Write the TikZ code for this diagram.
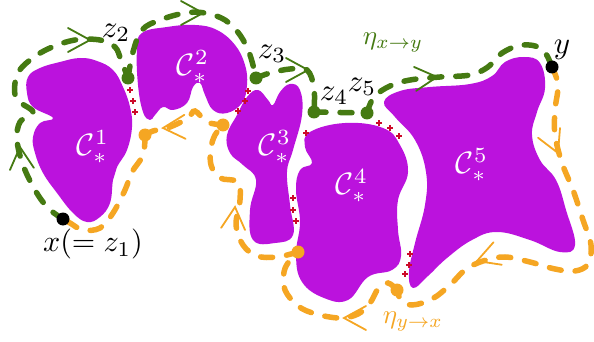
\documentclass[tikz,border=0pt]{standalone}
\usepackage{xcolor}
\usepackage{tikz}
\definecolor{blPurple}{HTML}{BB12DD}
\definecolor{blGreen}{HTML}{457A12}
\definecolor{blOrange}{HTML}{F5A623}
\definecolor{blRed}{HTML}{CC0A2A}

\begin{document}
\begin{tikzpicture}[x=1pt,y=-1pt,
  blob/.style={fill=blPurple},
  cl/.style={text=white,scale=3.1,inner sep=0pt},
  lab/.style={scale=3.1,inner sep=0pt},
  gp/.style={draw=blGreen,line width=5.5pt,line cap=round,dash pattern=on 12pt off 14pt},
  op/.style={draw=blOrange,line width=5.5pt,line cap=round,dash pattern=on 12pt off 14pt},
  gdot/.style={circle,fill=blGreen,minimum size=13pt,inner sep=0pt},
  odot/.style={circle,fill=blOrange,minimum size=13pt,inner sep=0pt},
  bdot/.style={circle,fill=black,minimum size=13pt,inner sep=0pt},
  mk/.style={draw=blRed,line width=1.6pt},
  chev/.pic={\draw[line width=1.8pt,line cap=round] (-22,-12) -- (0,0) -- (-22,12);}
]
\useasboundingbox (0,0) rectangle (594,342);
% clusters
\fill[blob] plot[smooth cycle,tension=0.7] coordinates {(28,77) (40,68) (60,62) (80,58) (97,61) (113,70) (123,87) (130,107) (132,127) (127,150) (117,167) (113,180) (110,203) (100,217) (87,222) (73,213) (57,193) (43,173) (35,153) (33,137) (40,123) (53,118) (33,107) (27,93)};
\fill[blob] plot[smooth cycle,tension=0.7] coordinates {(137,50) (142,33) (167,27) (195,25) (217,30) (235,45) (245,65) (247,85) (242,103) (227,113) (213,110) (205,95) (200,83) (193,87) (187,103) (173,110) (163,107) (155,115) (150,120) (143,112) (138,85)};
\fill[blob] plot[smooth cycle,tension=0.7] coordinates {(247,97) (258,90) (268,100) (273,105) (280,92) (290,84) (300,90) (302,115) (293,150) (287,172) (290,205) (293,235) (275,243) (253,240) (250,210) (256,180) (243,165) (230,153) (227,135) (237,115)};
\fill[blob] plot[smooth cycle,tension=0.7] coordinates {(310,132) (345,123) (383,128) (400,145) (408,172) (398,200) (398,230) (401,256) (392,270) (368,277) (348,300) (324,298) (302,282) (296,255) (300,222) (296,190) (300,170) (312,163) (305,147)};
\fill[blob] plot[smooth cycle,tension=0.7] coordinates {(384,102) (400,91) (430,87) (470,84) (492,76) (505,62) (524,57) (540,63) (545,88) (537,112) (532,135) (540,160) (556,180) (566,210) (575,245) (560,252) (530,240) (497,232) (472,240) (447,258) (428,276) (413,288) (409,272) (415,243) (425,205) (426,172) (415,140) (395,117)};
% gaps
\foreach \p in {(130,90),(133,101),(135,112),(248,91),(245,101),(238,111),(306,133),
  (293,198),(293,210),(296,221),(379,123),(390,128),(399,136),(410,254),(409,265),(405,274)}
  \draw[mk] \p ++(-2.6,0) -- ++(5.2,0) \p ++(0,-2.6) -- ++(0,5.2);
% points
\coordinate (x) at (63,219);
\coordinate (y) at (552,67);
\coordinate (z2) at (128,78);
\coordinate (z3) at (256,78);
\coordinate (z4) at (314,112);
\coordinate (z5) at (367,113);
\coordinate (d1) at (397,290);
\coordinate (d2) at (298,252);
\coordinate (d3) at (223,125);
\coordinate (d4) at (145,135);
% eta x -> y
\draw[gp] plot[smooth,tension=0.6] coordinates {(x) (48,208) (35,190) (23,165) (17,140) (20,122) (33,112) (16,98) (17,75) (30,60) (50,48) (75,40) (100,40) (115,47) (121,60) (z2)};
\draw[gp] plot[smooth,tension=0.6] coordinates {(z2) (133,52) (142,30) (160,20) (185,13) (205,13) (225,20) (240,35) (250,55) (z3)};
\draw[gp] plot[smooth,tension=0.6] coordinates {(z3) (270,73) (290,69) (307,70) (314,88) (z4)};
\draw[gp] (z4) -- (z5);
\draw[gp] plot[smooth,tension=0.6] coordinates {(z5) (374,97) (390,86) (410,80) (440,77) (470,75) (488,67) (502,53) (522,45) (542,49) (y)};
% eta y -> x
\draw[op] plot[smooth,tension=0.6] coordinates {(y) (558,85) (555,110) (555,135) (562,163) (573,190) (583,220) (591,245) (588,264) (575,271) (555,269) (530,262) (505,257) (483,261) (465,270) (450,285) (432,299) (412,305) (401,300) (d1)};
\draw[op] plot[smooth,tension=0.6] coordinates {(d1) (388,283) (378,289) (370,303) (358,314) (340,318) (316,314) (298,306) (285,290) (284,272) (290,260) (d2)};
\draw[op] plot[smooth,tension=0.6] coordinates {(d2) (277,257) (257,256) (243,245) (236,225) (240,200) (238,182) (220,178) (211,165) (211,148) (215,135) (d3)};
\draw[op] plot[smooth,tension=0.6] coordinates {(d3) (207,122) (195,111) (188,118) (170,127) (153,131) (d4)};
\draw[op] plot[smooth,tension=0.6] coordinates {(d4) (143,155) (132,172) (125,190) (113,213) (100,228) (83,230) (70,223) (x)};
% arrows
\pic[blGreen,rotate=95] at (20,147) {chev};
\pic[blGreen] at (90,40) {chev};
\pic[blGreen] at (203,13) {chev};
\pic[blGreen] at (308,70) {chev};
\pic[blGreen,rotate=5] at (437,77) {chev};
\pic[blOrange,rotate=-66] at (558,153) {chev};
\pic[blOrange,rotate=200] at (477,261) {chev};
\pic[blOrange,rotate=180] at (344,318) {chev};
\pic[blOrange,rotate=85] at (235,207) {chev};
\pic[blOrange,rotate=183] at (163,128) {chev};
% dots
\node[bdot] (xd) at (x) {};
\node[bdot] (yd) at (y) {};
\node[gdot] (z2d) at (z2) {};
\node[gdot] (z3d) at (z3) {};
\node[gdot] (z4d) at (z4) {};
\node[gdot] (z5d) at (z5) {};
\node[odot] (d1d) at (d1) {};
\node[odot] (d2d) at (d2) {};
\node[odot] (d3d) at (d3) {};
\node[odot] (d4d) at (d4) {};
% labels
\node[cl] (c1) at (93,147) {$\mathcal{C}^1_*$};
\node[cl] (c2) at (193,67) {$\mathcal{C}^2_*$};
\node[cl] (c3) at (275,147) {$\mathcal{C}^3_*$};
\node[cl] (c4) at (352,186) {$\mathcal{C}^4_*$};
\node[cl] (c5) at (472,165) {$\mathcal{C}^5_*$};
\node[lab] (lz2) at (116,33) {$z_2$};
\node[lab] (lz3) at (272,54) {$z_3$};
\node[lab] (lz4) at (334,96) {$z_4$};
\node[lab] (lz5) at (362,87) {$z_5$};
\node[lab] (ly) at (562,50) {$y$};
\node[lab,scale=0.97] (lx) at (93,244) {$x(=z_1)$};
\node[lab,scale=0.87,text=blGreen] (exy) at (393,43) {$\eta_{x\to y}$};
\node[lab,scale=0.87,text=blOrange] (eyx) at (413,322) {$\eta_{y\to x}$};
\end{tikzpicture}
\end{document}
